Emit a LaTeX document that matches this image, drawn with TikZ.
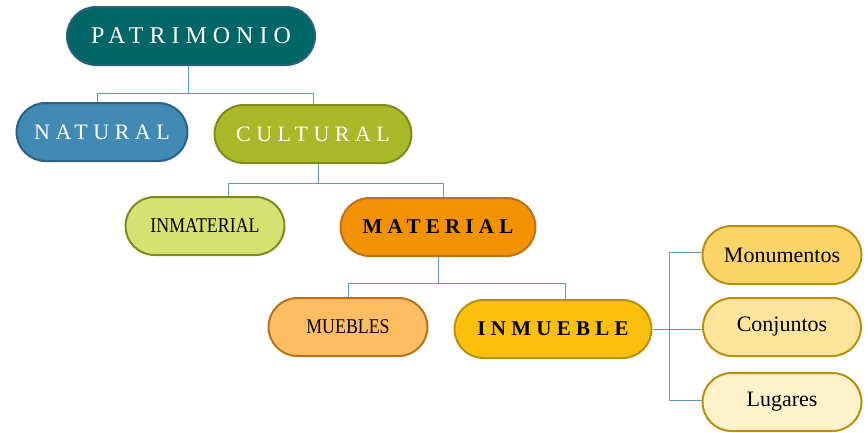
\documentclass[tikz,border=0pt]{standalone}
\usepackage{fontspec}
\setmainfont{Liberation Serif}
\newfontfamily\spacedfont[LetterSpace=25]{Liberation Serif}
\newfontfamily\condfont[FakeStretch=0.85]{Liberation Serif}
\definecolor{conncol}{HTML}{5B9BC1}
\definecolor{patfill}{HTML}{006666}
\definecolor{patline}{HTML}{2A5E7E}
\definecolor{natfill}{HTML}{418AB3}
\definecolor{natline}{HTML}{2E6189}
\definecolor{culfill}{HTML}{A8B826}
\definecolor{culline}{HTML}{7E8C1E}
\definecolor{inmfill}{HTML}{D4E272}
\definecolor{matfill}{HTML}{F39200}
\definecolor{matline}{HTML}{B8721C}
\definecolor{muefill}{HTML}{FFBD62}
\definecolor{inbfill}{HTML}{FCC00C}
\definecolor{inbline}{HTML}{B8900A}
\definecolor{monfill}{HTML}{FDD468}
\definecolor{conjfill}{HTML}{FFE59B}
\definecolor{lugfill}{HTML}{FFF2CA}
\tikzset{
  pill/.style={draw, line width=2pt, rounded corners=29pt, minimum height=58pt, inner sep=0pt, align=center},
  conn/.style={draw=conncol, line width=1pt},
}
\begin{document}
\begin{tikzpicture}[x=1pt,y=-1pt]
\useasboundingbox (0,0) rectangle (868,432);
\node[pill, fill=patfill, draw=patline, minimum width=248pt, text=white, font=\spacedfont\fontsize{24}{27}\selectfont] (pat) at (191,36) {PATRIMONIO};
\node[pill, fill=natfill, draw=natline, minimum width=171pt, text=white, font=\spacedfont\fontsize{22}{25}\selectfont] (nat) at (102,132) {NATURAL};
\node[pill, fill=culfill, draw=culline, minimum width=197pt, text=white, font=\spacedfont\fontsize{22}{25}\selectfont] (cul) at (313,134) {CULTURAL};
\node[pill, fill=inmfill, draw=culline, minimum width=159pt, font=\condfont\fontsize{21}{24}\selectfont] (inm) at (205,226) {INMATERIAL};
\node[pill, fill=matfill, draw=matline, minimum width=195pt, font=\spacedfont\bfseries\fontsize{21}{24}\selectfont] (mat) at (438,227) {MATERIAL};
\node[pill, fill=muefill, draw=matline, minimum width=159pt, font=\condfont\fontsize{21}{24}\selectfont] (mue) at (348,327) {MUEBLES};
\node[pill, fill=inbfill, draw=inbline, minimum width=197pt, font=\spacedfont\bfseries\fontsize{21}{24}\selectfont] (inb) at (553,329) {INMUEBLE};
\node[pill, fill=monfill, draw=inbline, minimum width=159pt, font=\fontsize{22}{25}\selectfont] (mon) at (782,255) {Monumentos};
\node[pill, fill=conjfill, draw=inbline, minimum width=158pt, font=\fontsize{22}{25}\selectfont] (conj) at (782,327) {Conjuntos};
\node[pill, fill=lugfill, draw=inbline, minimum width=159pt, font=\fontsize{22}{25}\selectfont] (lug) at (782,402) {Lugares};
% connectors
\draw[conn] ([xshift=-3pt]pat.south) -- ++(0,27) coordinate (j1);
\draw[conn] (j1) -| ([xshift=-5pt]nat.north);
\draw[conn] (j1) -| (cul.north);
\draw[conn] ([xshift=5pt]cul.south) -- ++(0,19) coordinate (j2);
\draw[conn] (j2) -| ([xshift=23pt]inm.north);
\draw[conn] (j2) -| ([xshift=5pt]mat.north);
\draw[conn] (mat.south) -- ++(0,26) coordinate (j3);
\draw[conn] (j3) -| (mue.north);
\draw[conn] (j3) -| ([xshift=12pt]inb.north);
\draw[conn] (inb.east) -- (inb.east -| conj.west);
\draw[conn] ([yshift=3pt]mon.west) -- ++(-32,0) |- ([yshift=2pt]lug.west);
\end{tikzpicture}
\end{document}
